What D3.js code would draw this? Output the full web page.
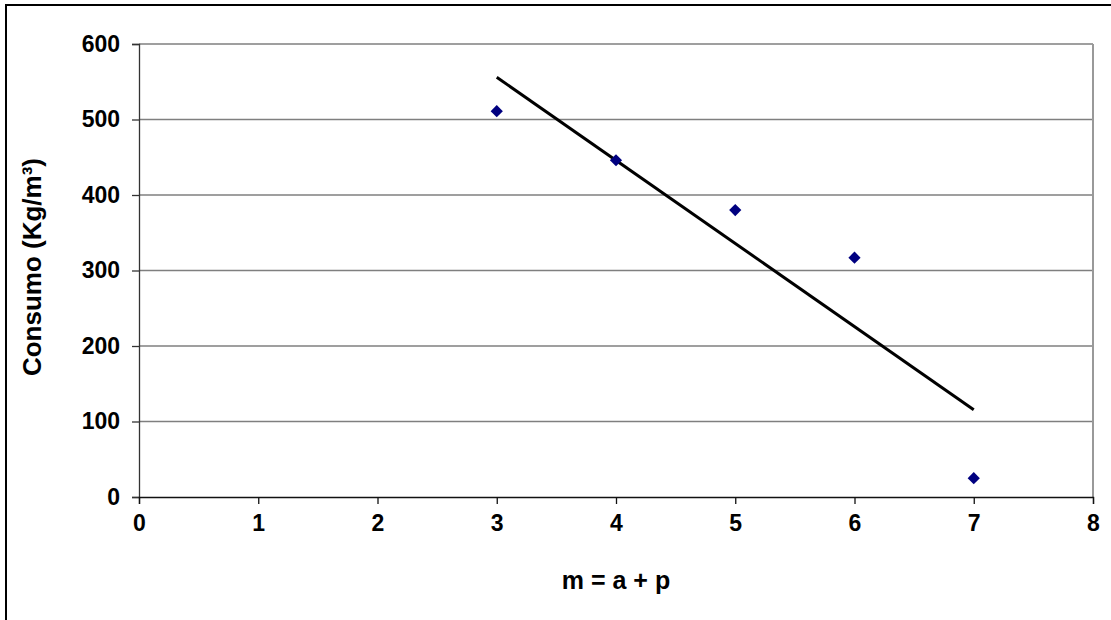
<!DOCTYPE html>
<html>
<head>
<meta charset="utf-8">
<script src="https://cdn.jsdelivr.net/npm/d3@7"></script>
<style>
html,body{margin:0;padding:0;background:#fff;}
svg{display:block;font-family:"Liberation Sans",Arial,sans-serif;font-weight:bold;}
</style>
</head>
<body>
<script>
const xValues = [3, 4, 5, 6, 7];
const yValues = [511, 446, 380, 317, 25];
const xTicks = [0, 1, 2, 3, 4, 5, 6, 7, 8];
const yTicks = [0, 100, 200, 300, 400, 500, 600];
const xTitle = "m = a + p";
const yTitle = "Consumo (Kg/m³)";

const W = 1111, H = 620;
const m = {left: 139, top: 44, right: 1093, bottom: 497};

const svg = d3.select("body").append("svg").attr("width", W).attr("height", H);

svg.append("rect").attr("x", 6).attr("y", 5).attr("width", 1120).attr("height", 640)
  .attr("fill", "#fff").attr("stroke", "#000").attr("stroke-width", 2);

const x = d3.scaleLinear().domain([0, 8]).range([m.left, m.right]);
const y = d3.scaleLinear().domain([0, 600]).range([m.bottom, m.top]);

svg.append("g").selectAll("line").data(yTicks.filter(d => d > 0)).join("line")
  .attr("x1", m.left).attr("x2", m.right)
  .attr("y1", d => y(d)).attr("y2", d => y(d))
  .attr("stroke", "#7f7f7f").attr("stroke-width", 1.3);

svg.append("line").attr("x1", m.right).attr("x2", m.right).attr("y1", m.top).attr("y2", m.bottom)
  .attr("stroke", "#999").attr("stroke-width", 2);

const fs = 23;
const yAxis = d3.axisLeft(y).tickValues(yTicks).tickSize(7).tickPadding(12);
const gy = svg.append("g").attr("transform", `translate(${m.left},0)`).call(yAxis);
gy.select(".domain").attr("stroke", "#333").attr("stroke-width", 1.3);
gy.selectAll(".tick line").attr("stroke", "#333").attr("stroke-width", 1.3);
gy.selectAll(".tick text").attr("font-size", fs).attr("font-weight", "bold")
  .attr("font-family", "Liberation Sans, Arial, sans-serif").attr("fill", "#000");

const xAxis = d3.axisBottom(x).tickValues(xTicks).tickSize(7).tickPadding(11);
const gx = svg.append("g").attr("transform", `translate(0,${m.bottom})`).call(xAxis);
gx.select(".domain").attr("stroke", "#111").attr("stroke-width", 1.3);
gx.selectAll(".tick line").attr("stroke", "#111").attr("stroke-width", 1.3);
gx.selectAll(".tick text").attr("font-size", fs).attr("font-weight", "bold")
  .attr("font-family", "Liberation Sans, Arial, sans-serif").attr("fill", "#000");

const mx = d3.mean(xValues), my = d3.mean(yValues);
const slope = d3.sum(xValues.map((v, i) => (v - mx) * (yValues[i] - my))) /
              d3.sum(xValues.map(v => (v - mx) ** 2));
const icpt = my - slope * mx;
const xMin = d3.min(xValues), xMax = d3.max(xValues);
svg.append("line")
  .attr("x1", x(xMin)).attr("y1", y(icpt + slope * xMin))
  .attr("x2", x(xMax)).attr("y2", y(icpt + slope * xMax))
  .attr("stroke", "#000").attr("stroke-width", 3);

svg.append("g").selectAll("path").data(xValues.map((v, i) => [v, yValues[i]])).join("path")
  .attr("d", d3.symbol().type(d3.symbolDiamond2).size(95))
  .attr("transform", d => `translate(${x(d[0])},${y(d[1])})`)
  .attr("fill", "#000080");

svg.append("text").attr("x", 616).attr("y", 589).attr("text-anchor", "middle")
  .attr("font-size", 25).text(xTitle);
svg.append("text").attr("transform", `translate(41,267) rotate(-90)`).attr("text-anchor", "middle")
  .attr("font-size", 26).text(yTitle);
</script>
</body>
</html>
